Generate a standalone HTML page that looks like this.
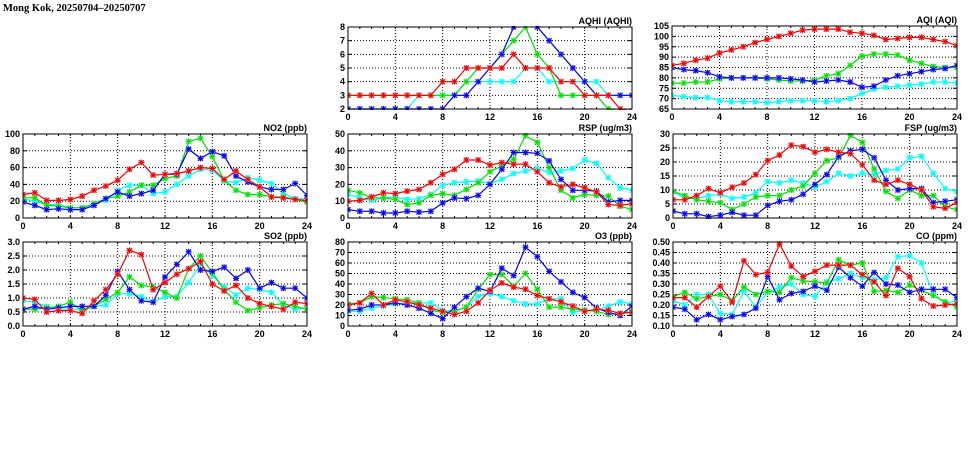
<!DOCTYPE html>
<html><head><meta charset="utf-8"><style>
body{margin:0;background:#fff;}
svg text{font-family:"Liberation Sans",sans-serif;font-weight:bold;}
</style></head><body>
<svg id="c" width="975" height="447" xmlns="http://www.w3.org/2000/svg">
<text x="3" y="11" font-size="10.5" style="font-family:'Liberation Serif',serif">Mong Kok, 20250704–20250707</text>
</svg>
<script>
const hours = [0,1,2,3,4,5,6,7,8,9,10,11,12,13,14,15,16,17,18,19,20,21,22,23,24];
const xTicks = [0,4,8,12,16,20,24];
const aqhiRed=[3,3,3,3,3,3,3,3,4,4,5,5,5,5,6,5,5,5,4,4,3,3,3,2,1.8];
const aqhiGreen=[3,3,3,3,3,3,3,3,3,3,4,5,5,6,7,8,6,5,3,3,3,3,2,1.8,1.8];
const aqhiBlue=[2,2,2,2,2,2,2,2,2,3,3,4,5,6,8,8.5,8,7,6,5,4,3,3,3,3];
const aqhiCyan=[2,2,2,2,2,2,3,3,3,3,4,4,4,4,4,5,5,4,4,4,4,4,3,3,3];
const aqiRed=[86,87,88.5,89.5,92,93.5,95,97,98.5,100,101.5,103,103.5,103.5,103.5,102,101.5,100.5,98.5,99,99.5,99.5,98.5,97.5,95.5];
const aqiGreen=[77.5,77.5,78,78,79.5,80,80,80,79.5,79,78.5,78.5,79,81,82,86,90.5,91.5,91.5,91,88.5,87,85.5,85,85];
const aqiBlue=[85,84,83.5,82.5,80.5,80,80,80,80,80,79.5,79,78,78.5,79,78,75.5,76,79,81,82,83,84,84.5,86];
const aqiCyan=[71.5,71,70.5,70.5,69,68.5,68.5,68.5,68,68.5,69,69,69,68.5,69,70,72.5,74.5,75.5,76,76.5,77,78,78,77.5];
const no2Red=[28,30,21,21,22,26,33,38,45,58,66,51,52,53,56,60,59,46,56,46,37,25,24,22,21];
const no2Green=[24,24,15,14,12,12,17,23,26,31,39,39,47,50,91,95,73,45,33,28,28,25,25,22,19];
const no2Blue=[19,15,10,11,10,10,15,23,31,26,29,33,52,52,82,71,79,74,50,43,37,34,34,41,27];
const no2Cyan=[23,20,16,16,12,12,17,21,33,39,39,29,31,40,50,58,57,44,42,48,45,41,29,23,23];
const rspRed=[10,10.5,12.5,15,14.5,16,17,21,26,29,34.5,34.5,31.5,33,32,32,27.5,21,18.5,20,18,15.5,8,7.5,8.5];
const rspGreen=[16.5,15,12,12,11,8,9,13.5,14.5,13.5,17,21,27.5,31,35,49,45,30,16.5,12,14,13.5,13,7,5];
const rspBlue=[5,4,4,3,3,4,3.5,4,9,12,11.5,13.5,20,29,39,39,38.5,34,23,16.5,16.5,16,9.5,10.5,10.5];
const rspCyan=[14,12,10.5,12,12.5,11,11.5,14,19.5,21,21.5,22,20.5,23,26.5,28,29.5,27,28,29.5,34.5,32.5,24,18,16.5];
const fspRed=[6.5,6.5,8,10.5,9,11,12.5,15.5,20.5,22.5,26,25.5,23.5,24.5,23.5,23,19,13.5,12,13.5,12,10,4,3.5,5.5];
const fspGreen=[9.5,8,6.5,6,5.5,3,5,7.5,8,8,10,11.5,16,20.5,21.5,29.5,27,17.5,9.5,7,10,8,8,4,3];
const fspBlue=[2.5,1.5,1.5,0.5,1,2,1,1,4.5,6,6.5,8.5,12,15.5,22,24,24.5,21.5,13.5,10,10.5,10.5,5.5,6,6.5];
const fspCyan=[9.5,7,7,8,8.5,7,7.5,9,13,12.5,13.5,12.5,11,13,16,15,16,15.5,17,17.5,21.5,22,16,10.5,9.5];
const so2Red=[1.0,0.95,0.5,0.55,0.55,0.45,0.9,1.3,1.85,2.7,2.55,1.3,1.55,1.85,2.05,2.3,1.5,1.25,1.45,1.0,0.8,0.7,0.6,0.85,0.8];
const so2Green=[0.6,0.6,0.65,0.7,0.85,0.55,0.7,0.95,1.2,1.75,1.45,1.4,1.2,1.0,2.05,2.5,1.9,1.3,0.85,0.55,0.65,0.75,0.8,0.7,0.6];
const so2Blue=[0.6,0.7,0.6,0.65,0.7,0.7,0.7,1.1,1.95,1.3,0.9,0.85,1.75,2.2,2.65,2.0,1.95,2.1,1.7,2.0,1.35,1.55,1.35,1.35,1.0];
const so2Cyan=[0.9,0.85,0.7,0.6,0.6,0.6,0.7,0.75,1.15,1.15,1.05,0.85,1.05,1.05,1.55,2.2,1.8,1.4,1.1,1.35,1.3,1.2,0.75,0.6,0.65];
const o3Red=[20,22,31,20,25,23,20,17,14,11,14,22,34,41,37,35,29,26,23,19,14,16,15,12,13];
const o3Green=[21,22,28,27,26,25,22,15,13,14,18,35,49,49,38,50,35,18,18,16,15,14,11,12,14];
const o3Blue=[15,16,20,20,22,20,17,12,7,18,28,36,33,55,48,75,66,52,42,32,27,17,13,10,19];
const o3Cyan=[14,14,17,19,21,22,22,22,15,14,18,28,31,28,24,21,21,26,26,13,15,15,19,23,21];
const coRed=[0.235,0.235,0.19,0.24,0.29,0.215,0.41,0.345,0.355,0.49,0.385,0.335,0.36,0.39,0.39,0.39,0.345,0.31,0.245,0.375,0.335,0.23,0.195,0.2,0.205];
const coGreen=[0.24,0.26,0.23,0.24,0.25,0.22,0.285,0.25,0.265,0.26,0.33,0.315,0.31,0.305,0.415,0.39,0.40,0.265,0.27,0.26,0.295,0.27,0.245,0.215,0.19];
const coBlue=[0.19,0.18,0.13,0.155,0.13,0.145,0.155,0.185,0.335,0.225,0.255,0.265,0.29,0.27,0.38,0.33,0.29,0.355,0.30,0.295,0.26,0.275,0.275,0.275,0.235];
const coCyan=[0.22,0.20,0.25,0.25,0.16,0.155,0.265,0.19,0.26,0.285,0.30,0.25,0.24,0.31,0.325,0.35,0.33,0.32,0.33,0.43,0.435,0.40,0.25,0.21,0.22];
const aqhiTicks=[2,3,4,5,6,7,8];
const aqiTicks=[65,70,75,80,85,90,95,100,105];
const no2Ticks=[0,20,40,60,80,100];
const rspTicks=[0,10,20,30,40,50];
const fspTicks=[0,5,10,15,20,25,30];
const so2Ticks=["0.0","0.5","1.0","1.5","2.0","2.5","3.0"];
const o3Ticks=[0,10,20,30,40,50,60,70,80];
const coTicks=["0.10","0.15","0.20","0.25","0.30","0.35","0.40","0.45","0.50"];

const NS="http://www.w3.org/2000/svg";
const svg=document.getElementById('c');
function mk(t,a,p){const e=document.createElementNS(NS,t);for(const k in a)e.setAttribute(k,a[k]);(p||svg).appendChild(e);return e;}
const panels=[
 {id:'aqhi',title:'AQHI (AQHI)',x0:348,x1:632,y0:27,y1:109,ticks:aqhiTicks,s:[aqhiCyan,aqhiGreen,aqhiBlue,aqhiRed]},
 {id:'aqi',title:'AQI (AQI)',x0:672,x1:957,y0:26,y1:109,ticks:aqiTicks,s:[aqiCyan,aqiGreen,aqiBlue,aqiRed]},
 {id:'no2',title:'NO2 (ppb)',x0:23,x1:307,y0:134,y1:218,ticks:no2Ticks,s:[no2Cyan,no2Green,no2Blue,no2Red]},
 {id:'rsp',title:'RSP (ug/m3)',x0:348,x1:632,y0:134,y1:218,ticks:rspTicks,s:[rspCyan,rspGreen,rspBlue,rspRed]},
 {id:'fsp',title:'FSP (ug/m3)',x0:673,x1:957,y0:134,y1:218,ticks:fspTicks,s:[fspCyan,fspGreen,fspBlue,fspRed]},
 {id:'so2',title:'SO2 (ppb)',x0:23,x1:307,y0:242,y1:326,ticks:so2Ticks,s:[so2Cyan,so2Green,so2Blue,so2Red]},
 {id:'o3',title:'O3 (ppb)',x0:348,x1:632,y0:242,y1:326,ticks:o3Ticks,s:[o3Cyan,o3Green,o3Blue,o3Red]},
 {id:'co',title:'CO (ppm)',x0:673,x1:957,y0:242,y1:326,ticks:coTicks,s:[coCyan,coGreen,coBlue,coRed]}
];
const colors=['#00ffff','#00dd00','#0000ee','#ee0000'];
const light=['#aaffff','#aaffaa','#aaaaff','#ffaaaa'];
const names=['cyan','green','blue','red'];
panels.forEach(p=>{
 const g=mk('g',{});
 
 
 const yv=p.ticks.map(Number);const ymin=yv[0],ymax=yv[yv.length-1];
 const X=h=>p.x0+(h-0)/24*(p.x1-p.x0);
 const Y=v=>p.y1-(v-ymin)/(ymax-ymin)*(p.y1-p.y0);
 const cid='clip-'+p.id;
 const cp=mk('clipPath',{id:cid},g);mk('rect',{x:p.x0,y:p.y0-1,width:p.x1-p.x0,height:p.y1-p.y0+2},cp);
 p.ticks.forEach((t,i)=>{const y=Y(Number(t));
  if(i>0&&i<p.ticks.length-1){const l=mk('line',{x1:p.x0,x2:p.x1,y1:y,y2:y,stroke:'#000','stroke-width':1,'stroke-dasharray':'1,2'},g);}
  mk('line',{x1:p.x0,x2:p.x0+4,y1:y,y2:y,stroke:'#000'},g);
  mk('line',{x1:p.x1-4,x2:p.x1,y1:y,y2:y,stroke:'#000'},g);
  const tx=mk('text',{x:p.x0-3,y:y+3,'font-size':9,'text-anchor':'end'},g);tx.textContent=t;
  
 });
 for(let h=1;h<24;h++){const x=X(h);mk('line',{x1:x,x2:x,y1:p.y1,y2:p.y1-2,stroke:'#000'},g);mk('line',{x1:x,x2:x,y1:p.y0,y2:p.y0+2,stroke:'#000'},g);}
 xTicks.forEach(t=>{const x=X(t);
  if(t>0&&t<24){const l=mk('line',{x1:x,x2:x,y1:p.y0,y2:p.y1,stroke:'#000','stroke-dasharray':'1,2'},g);}
  const tx=mk('text',{x:x,y:p.y1+11,'font-size':9,'text-anchor':'middle'},g);tx.textContent=t;
  
 });
 const tt=mk('text',{x:p.x1,y:p.y0-3,'font-size':9,'text-anchor':'end'},g);tt.textContent=p.title;
 
 const sg=mk('g',{'clip-path':'url(#'+cid+')'},g);
 p.s.forEach((vals,si)=>{
  const pts=vals.map((v,i)=>X(hours[i]).toFixed(1)+','+Y(v).toFixed(1)).join(' ');
  const pl=mk('polyline',{points:pts,fill:'none',stroke:colors[si],'stroke-width':1.2},sg);
  
  
  vals.forEach((v,i)=>{const x=X(hours[i]),y=Y(v);
   const m=mk('g',{},sg);
   
   
   mk('rect',{x:x-2.5,y:y-2.5,width:5,height:5,fill:light[si]},m);
   mk('path',{d:`M${x-2.5} ${y-2.5}L${x+2.5} ${y+2.5}M${x+2.5} ${y-2.5}L${x-2.5} ${y+2.5}M${x} ${y-3}L${x} ${y+3}M${x-3} ${y}L${x+3} ${y}`,stroke:colors[si],'stroke-width':1},m);
  });
 });
 const fr=mk('rect',{x:p.x0,y:p.y0,width:p.x1-p.x0,height:p.y1-p.y0,fill:'none',stroke:'#000','stroke-width':1},g);
 
});
</script>
</body></html>
